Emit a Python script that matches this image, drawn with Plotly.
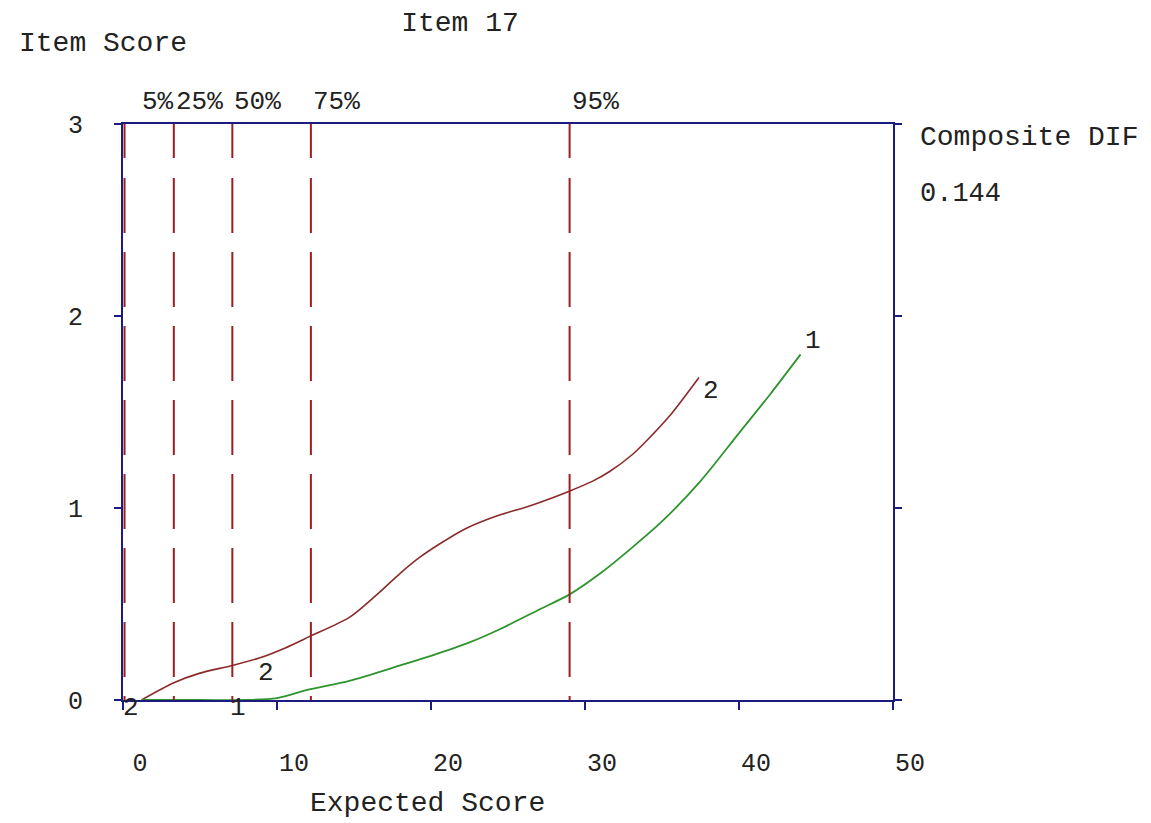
import plotly.graph_objects as go

# ---- data ----
title_text = "Item 17"
dif_value = "0.144"

curve2_x = [1.2, 3.3, 5.0, 7.1, 8.9, 10.5, 12.1, 14.7, 16.5, 18.0, 19.3, 20.5, 22.3, 24.5, 26.0, 27.1, 28.9, 30.5, 31.6, 33.1, 34.0, 35.5, 37.4]
curve2_y = [0.0, 0.09, 0.14, 0.18, 0.22, 0.27, 0.33, 0.43, 0.55, 0.66, 0.745, 0.81, 0.895, 0.965, 1.0, 1.03, 1.085, 1.14, 1.19, 1.28, 1.35, 1.48, 1.68]

curve1_x = [1.2, 5.0, 8.0, 10.0, 12.1, 14.7, 18.0, 20.0, 22.5, 24.5, 27.0, 29.0, 31.0, 33.0, 35.0, 37.5, 40.0, 42.0, 44.0]
curve1_y = [0.0, 0.0, 0.0, 0.01, 0.055, 0.10, 0.18, 0.23, 0.30, 0.37, 0.47, 0.55, 0.66, 0.79, 0.93, 1.14, 1.39, 1.59, 1.80]

pct_labels = ["5%", "25%", "50%", "75%", "95%"]
pct_values = [0.1, 3.3, 7.1, 12.2, 29.0]

x_ticks = [0, 10, 20, 30, 40, 50]
y_ticks = [0, 1, 2, 3]

FONT = "Liberation Mono"
TXT = "#222222"
AXIS = "#1c1c80"
RED = "#8b2a2a"
DASHRED = "#9a1f1f"
GREEN = "#2f932f"

fig = go.Figure()

# percentile dashed lines (drawn top to bottom)
dash = "34px,20px" + ",55px,19px" * 8
for p in pct_values:
    fig.add_shape(type="line", xref="x", yref="y", x0=p, x1=p, y0=3, y1=0,
                  line=dict(color=DASHRED, width=2, dash=dash), layer="above")

fig.add_trace(go.Scatter(x=curve2_x, y=curve2_y, mode="lines",
                         line=dict(color=RED, width=1.6, shape="spline", smoothing=0.8),
                         showlegend=False, hoverinfo="skip", cliponaxis=False))
fig.add_trace(go.Scatter(x=curve1_x, y=curve1_y, mode="lines",
                         line=dict(color=GREEN, width=1.8, shape="spline", smoothing=0.8),
                         showlegend=False, hoverinfo="skip", cliponaxis=False))

ann = []
for lab, p in zip(pct_labels, pct_values):
    ann.append(dict(x=p, xref="x", y=1.038, yref="paper", text=lab, showarrow=False,
                    xanchor="left", yanchor="middle", xshift=(15 if lab == "5%" else 0),
                    font=dict(size=26)))

# curve labels
def lab(t, x, y, xs=0, ys=0):
    ann.append(dict(x=x, y=y, xref="x", yref="y", text=t, showarrow=False,
                    xanchor="center", yanchor="middle", xshift=xs, yshift=ys,
                    font=dict(size=26)))

lab("2", curve2_x[0], curve2_y[0], xs=-10, ys=-8)
lab("1", curve1_x[2], curve1_y[2], xs=-8, ys=-8)
lab("2", curve2_x[4], curve2_y[4], xs=6, ys=-15)
lab("2", curve2_x[-1], curve2_y[-1], xs=12, ys=-14)
lab("1", curve1_x[-1], curve1_y[-1], xs=12, ys=13)

ann.append(dict(x=-0.1377, y=1.139, xref="paper", yref="paper", text="Item Score",
                showarrow=False, xanchor="left", yanchor="middle", font=dict(size=28)))
ann.append(dict(x=1.0325, y=0.9757, xref="paper", yref="paper", text="Composite DIF",
                showarrow=False, xanchor="left", yanchor="middle", font=dict(size=28)))
ann.append(dict(x=1.0325, y=0.878, xref="paper", yref="paper", text=dif_value,
                showarrow=False, xanchor="left", yanchor="middle", font=dict(size=27)))
ann.append(dict(x=0.395, y=-0.179, xref="paper", yref="paper", text="Expected Score",
                showarrow=False, xanchor="center", yanchor="middle", font=dict(size=28)))

fig.update_layout(
    width=1151, height=823,
    margin=dict(l=123, r=258, t=124, b=123),
    paper_bgcolor="white", plot_bgcolor="white",
    font=dict(family=FONT, size=26, color=TXT),
    title=dict(text=title_text, x=0.4377, xref="paper", xanchor="center",
               y=1 - 21 / 823, yref="container", yanchor="middle",
               font=dict(family=FONT, size=28, color=TXT)),
    annotations=ann,
    xaxis=dict(range=[0, 50], tickvals=x_ticks, ticktext=[str(v) for v in x_ticks],
               showgrid=False, zeroline=False, showline=True, linecolor=AXIS, linewidth=2,
               mirror=True, ticks="outside", ticklen=8, tickwidth=2, tickcolor=AXIS,
               ticklabelstandoff=31, ticklabelshift=17, automargin=False,
               tickfont=dict(family=FONT, size=25, color=TXT)),
    yaxis=dict(range=[0, 3], tickvals=y_ticks, ticktext=[str(v) for v in y_ticks],
               showgrid=False, zeroline=False, showline=True, linecolor=AXIS, linewidth=2,
               mirror="allticks", ticks="outside", ticklen=7, tickwidth=2, tickcolor=AXIS,
               ticklabelstandoff=26, automargin=False,
               tickfont=dict(family=FONT, size=25, color=TXT)),
)

fig.write_html("out.html", config={"displayModeBar": False},
               post_script="document.body.style.margin='0';document.body.style.overflow='hidden';")
